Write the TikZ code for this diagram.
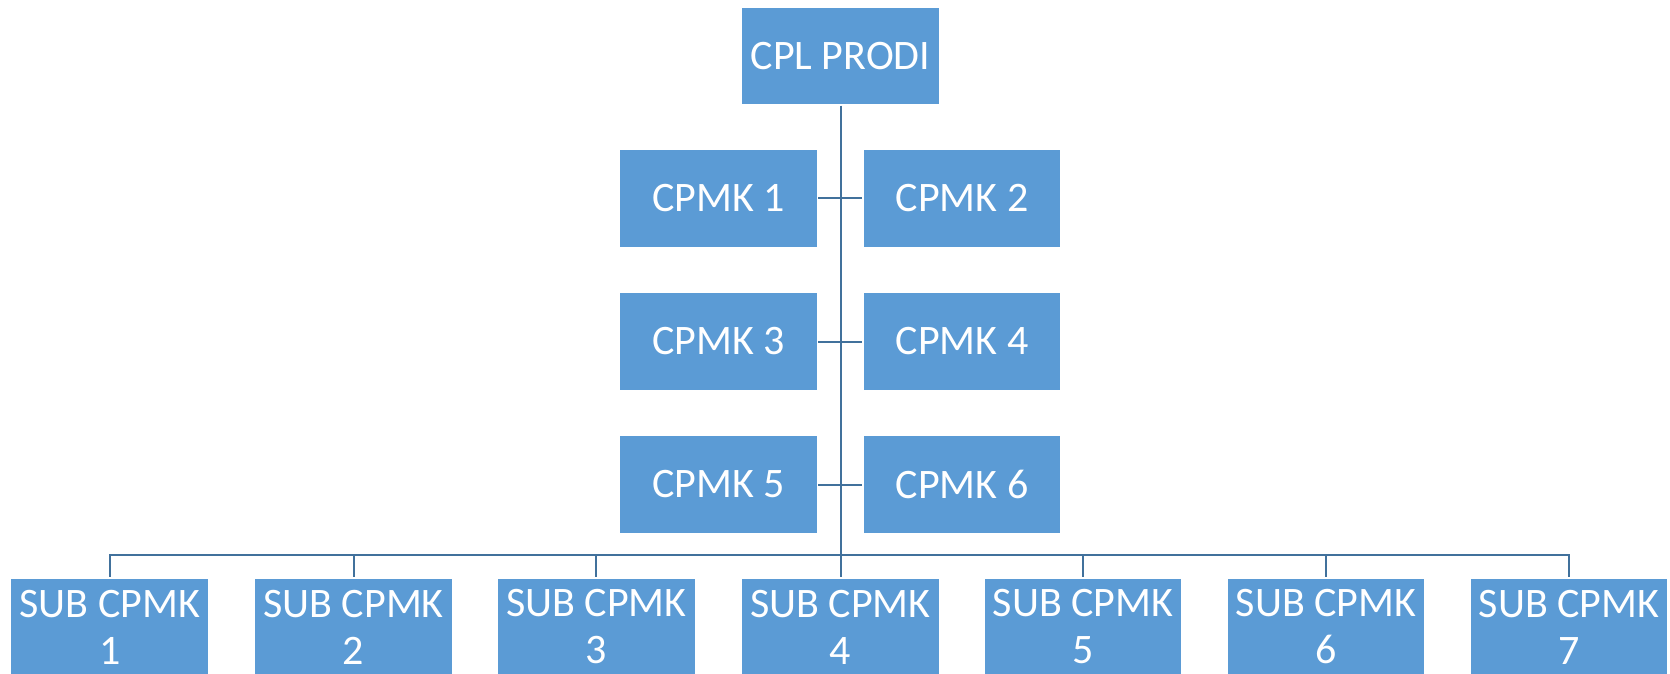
\documentclass[tikz,border=0pt]{standalone}
\usepackage{fontspec}
\setmainfont{Carlito}
\definecolor{boxblue}{RGB}{91,155,213}
\definecolor{lineblue}{RGB}{65,113,156}

\begin{document}
\begin{tikzpicture}
                \tikzset{x=10pt, y=10pt}
                \tikzstyle{goal}=[rectangle, draw=white, line width=1.5pt, fill=boxblue, text=white,
                                  minimum width=198pt, minimum height=98pt, inner sep=0pt,
                                  align=center, font=\fontsize{42}{47}\selectfont]
                \tikzstyle{link}=[draw=lineblue, line width=2pt]

                \useasboundingbox (0.0, 0.0) rectangle (167.0, 67.3);

                \draw (84.05, 61.7)  node[goal] (cpl)   {CPL PRODI};

                \draw (71.85, 47.45) node[goal] (c1)    {CPMK 1};
                \draw (96.20, 47.45) node[goal] (c2)    {CPMK 2};
                \draw (71.85, 33.15) node[goal] (c3)    {CPMK 3};
                \draw (96.20, 33.15) node[goal] (c4)    {CPMK 4};
                \draw (71.85, 18.85) node[goal] (c5)    {CPMK 5};
                \draw (96.20, 18.85) node[goal] (c6)    {CPMK 6};

                \draw (10.97, 4.6)   node[goal] (s1)    {SUB CPMK\\1};
                \draw (35.36, 4.6)   node[goal] (s2)    {SUB CPMK\\2};
                \draw (59.64, 4.6)   node[goal] (s3)    {SUB CPMK\\3};
                \draw (84.05, 4.6)   node[goal] (s4)    {SUB CPMK\\4};
                \draw (108.3, 4.6)   node[goal] (s5)    {SUB CPMK\\5};
                \draw (132.6, 4.6)   node[goal] (s6)    {SUB CPMK\\6};
                \draw (156.9, 4.6)   node[goal] (s7)    {SUB CPMK\\7};

                \coordinate (hub) at (84.05, 11.8);

                \draw [link]        (cpl.south) -- (hub);
                \draw [link]        (c1.east) -- (c2.west);
                \draw [link]        (c3.east) -- (c4.west);
                \draw [link]        (c5.east) -- (c6.west);
                \foreach \s in {s1, s2, s3, s4, s5, s6, s7}
                    \draw [link]    (hub) -| (\s.north);
            \end{tikzpicture}
\end{document}
